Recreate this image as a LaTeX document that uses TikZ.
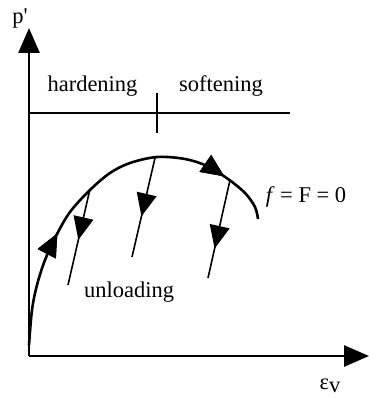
\documentclass[tikz,border=0pt]{standalone}
\usepackage{fontspec}
\setmainfont{Liberation Serif}
\usetikzlibrary{arrows.meta,decorations.markings}
\tikzset{
  axis/.style={line width=2.8pt,-{Triangle[length=25pt,width=21pt]}},
  curvestyle/.style={line width=2.6pt},
  unload/.style={line width=1.6pt},
  lbl/.style={font=\fontsize{22.5}{26}\selectfont,inner sep=0pt,anchor=base},
  midarrow/.style={postaction={decorate},decoration={markings,
     mark=at position #1 with {\arrow{Triangle[length=23pt,width=20pt]}}}}
}
\begin{document}
\begin{tikzpicture}[x=1pt,y=-1pt]
\useasboundingbox (0,0) rectangle (369,398);
% axes
\coordinate (O) at (29,356);
\coordinate (ytip) at (29,28);
\coordinate (xtip) at (369,356);
\draw[axis] (O) -- (ytip);
\draw[axis] (O) -- (xtip);
\node[lbl] (p) at (20,24) {p\textquotesingle};
\node[lbl] (eps) at (330,389) {ε\raisebox{-0.35ex}{v}};
% hardening / softening line
\coordinate (hl) at (29,113);
\coordinate (hr) at (290,113);
\draw[line width=2.2pt] (hl) -- (hr);
\coordinate (tt) at (157,93);
\coordinate (tb) at (157,133);
\draw[line width=2pt] (tt) -- (tb);
\node[lbl] (hard) at (92.5,92) {hardening};
\node[lbl] (soft) at (221,92) {softening};
% yield curve
\draw[curvestyle,midarrow=0.31,midarrow=0.85] plot[smooth,tension=0.55] coordinates {
 (29,345) (32,310) (37,285) (45,260) (56,236) (70,212) (90,190) (110,173)
 (130,163) (157,157) (185,159) (207,166) (228,179) (245,193) (255,207) (258,219)};
% unloading lines
\coordinate (a1) at (90,189);  \coordinate (b1) at (68,285);
\coordinate (a2) at (155,158); \coordinate (b2) at (132,257);
\coordinate (a3) at (230,180); \coordinate (b3) at (208,278);
\draw[unload,midarrow=0.53] (a1) -- (b1);
\draw[unload,midarrow=0.59] (a2) -- (b2);
\draw[unload,midarrow=0.70] (a3) -- (b3);
\node[lbl] (unl) at (129,297) {unloading};
\node[lbl] (fF) at (306,202) {\itshape f\/\upshape\ = F = 0};
\end{tikzpicture}
\end{document}
